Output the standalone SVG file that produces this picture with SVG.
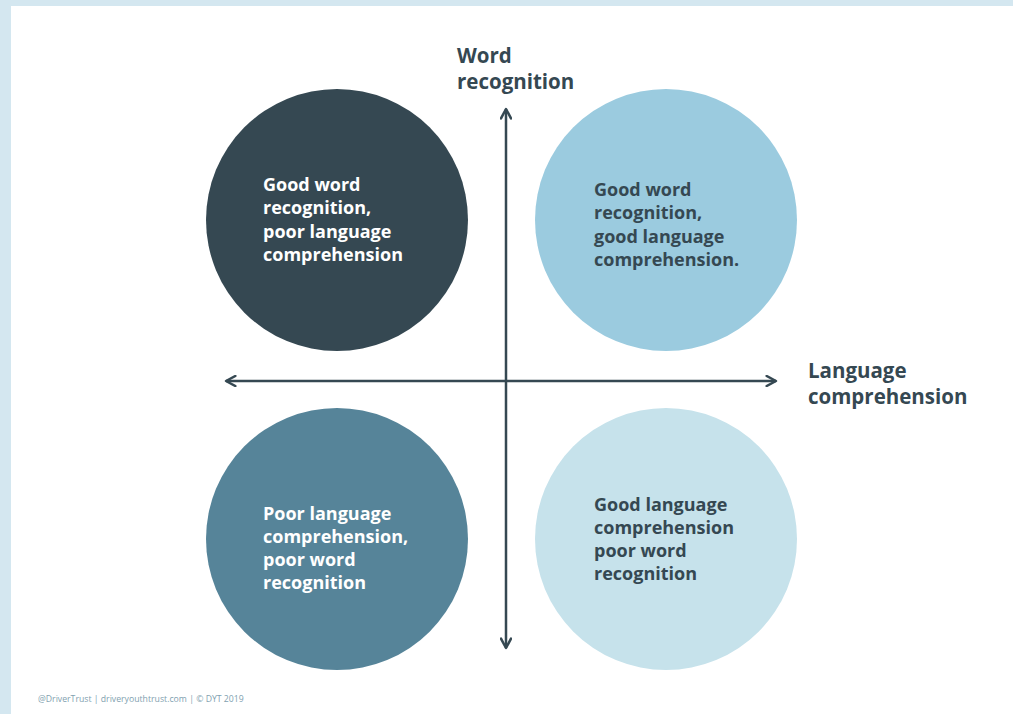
<svg xmlns="http://www.w3.org/2000/svg" width="1013" height="714" viewBox="0 0 1013 714">
  <style>
    .lbl { font-family: "Open Sans", "Noto Sans", sans-serif; font-weight: bold; font-size: 18px; }
    .axis-lbl { font-family: "Open Sans", "Noto Sans", sans-serif; font-weight: bold; font-size: 20.5px; fill: #354852; }
    .light { fill: #ffffff; }
    .dark { fill: #354852; }
    .axis { stroke: #354852; stroke-width: 2.5; fill: none; }
    .foot { font-family: "Open Sans", "Noto Sans", sans-serif; font-size: 8.7px; fill: #7f9fb0; }
  </style>
  <defs>
    <marker id="arrow" viewBox="0 0 10 10" refX="8.5" refY="5" markerWidth="5" markerHeight="5" markerUnits="strokeWidth" orient="auto-start-reverse">
      <path d="M1,1 L8.5,5 L1,9" fill="none" stroke="#354852" stroke-width="2" stroke-linecap="round" stroke-linejoin="round"/>
    </marker>
  </defs>

  <!-- page frame -->
  <rect x="0" y="0" width="1013" height="714" fill="#d4e7f0"/>
  <rect x="11" y="6" width="1002" height="708" fill="#ffffff"/>

  <!-- quadrant: good word recognition, poor language comprehension -->
  <g id="q-top-left">
    <circle cx="337" cy="220" r="131" fill="#354852"/>
    <text class="lbl light" x="263">
      <tspan x="263" y="191">Good word</tspan>
      <tspan x="263" y="214">recognition,</tspan>
      <tspan x="263" y="238">poor language</tspan>
      <tspan x="263" y="261">comprehension</tspan>
    </text>
  </g>

  <!-- quadrant: good word recognition, good language comprehension -->
  <g id="q-top-right">
    <circle cx="666" cy="220" r="131" fill="#9bcbdf"/>
    <text class="lbl dark">
      <tspan x="594" y="196">Good word</tspan>
      <tspan x="594" y="219">recognition,</tspan>
      <tspan x="594" y="243">good language</tspan>
      <tspan x="594" y="266">comprehension.</tspan>
    </text>
  </g>

  <!-- quadrant: poor language comprehension, poor word recognition -->
  <g id="q-bottom-left">
    <circle cx="337" cy="539" r="131" fill="#568499"/>
    <text class="lbl light">
      <tspan x="263" y="520">Poor language</tspan>
      <tspan x="263" y="543">comprehension,</tspan>
      <tspan x="263" y="566">poor word</tspan>
      <tspan x="263" y="589">recognition</tspan>
    </text>
  </g>

  <!-- quadrant: good language comprehension, poor word recognition -->
  <g id="q-bottom-right">
    <circle cx="666" cy="539" r="131" fill="#c6e2eb"/>
    <text class="lbl dark">
      <tspan x="594" y="511">Good language</tspan>
      <tspan x="594" y="534">comprehension</tspan>
      <tspan x="594" y="557">poor word</tspan>
      <tspan x="594" y="580">recognition</tspan>
    </text>
  </g>

  <!-- axes -->
  <g id="axes">
    <line class="axis" x1="506" y1="648" x2="506" y2="109" marker-start="url(#arrow)" marker-end="url(#arrow)"/>
    <line class="axis" x1="226" y1="381" x2="776" y2="381" marker-start="url(#arrow)" marker-end="url(#arrow)"/>
  </g>

  <!-- axis titles -->
  <g id="axis-y-title">
    <text class="axis-lbl">
      <tspan x="457" y="63">Word</tspan>
      <tspan x="457" y="89">recognition</tspan>
    </text>
  </g>
  <g id="axis-x-title">
    <text class="axis-lbl">
      <tspan x="808" y="378">Language</tspan>
      <tspan x="808" y="404">comprehension</tspan>
    </text>
  </g>

  <text class="foot" x="38" y="702">@DriverTrust | driveryouthtrust.com | © DYT 2019</text>
</svg>
